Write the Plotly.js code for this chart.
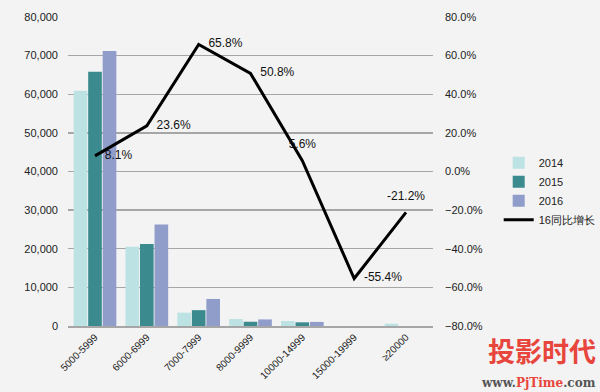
<!DOCTYPE html>
<html>
<head>
<meta charset="utf-8">
<script src="https://cdn.plot.ly/plotly-3.0.1.min.js"></script>
<style>html,body{margin:0;padding:0;background:#f3f3f3;}#chart{width:600px;height:392px;}</style>
</head>
<body>
<div id="chart"></div>
<script>
const categories = ['5000-5999','6000-6999','7000-7999','8000-9999','10000-14999','15000-19999','≥20000'];
const sales2014 = [60900, 20500, 3450, 1800, 1300, 0, 600];
const sales2015 = [65800, 21200, 4100, 1100, 950, 0, 0];
const sales2016 = [71200, 26300, 7000, 1700, 1050, 0, 0];
const growth16 = [8.1, 23.6, 65.8, 50.8, 5.6, -55.4, -21.2];
const growthLabelPos = ['middle right','middle right','middle right','middle right','top center','middle right','top center'];

const font = {family: 'Liberation Sans, Arial, sans-serif', size: 11, color: '#222'};

const traces = [
  {type:'bar', name:'2014', x:categories, y:sales2014, marker:{color:'#bce2e4', line:{width:0}}},
  {type:'bar', name:'2015', x:categories, y:sales2015, marker:{color:'#3b8b8e', line:{width:0}}},
  {type:'bar', name:'2016', x:categories, y:sales2016, marker:{color:'#909cca', line:{width:0}}},
  {type:'scatter', mode:'lines+markers+text', name:'16同比增长', x:categories, y:growth16, yaxis:'y2',
   line:{color:'#000', width:3}, marker:{size:14, color:'rgba(0,0,0,0)', line:{width:0}},
   text:growth16.map(v=>v.toFixed(1)+'%'), textposition:growthLabelPos,
   textfont:{family:font.family, size:12, color:'#111'}, cliponaxis:false}
];

const layout = {
  width:600, height:392,
  margin:{l:68, r:167, t:17, b:66, autoexpand:false},
  paper_bgcolor:'#f3f3f3', plot_bgcolor:'rgba(0,0,0,0)',
  font:font,
  barmode:'group', bargap:0.16, bargroupgap:0.06,
  showlegend:true,
  legend:{x:1.18, y:0.575, xanchor:'left', yanchor:'top', bgcolor:'rgba(0,0,0,0)', font:{size:11, color:'#222'}, tracegroupgap:0, itemwidth:30},
  xaxis:{type:'category', tickangle:-45, showline:true, linecolor:'#a6a6a6', linewidth:1.5, ticks:'', tickfont:{size:10, color:'#222'}, showgrid:false},
  yaxis:{range:[0,80000], dtick:10000, tickformat:',d', showgrid:true, gridcolor:'#a6a6a6', gridwidth:1.3, zeroline:false, ticks:'', ticklabelstandoff:9, tickfont:{size:11, color:'#222'}},
  yaxis2:{overlaying:'y', side:'right', range:[-80,80], dtick:20, tickformat:'.1f', ticksuffix:'%', showgrid:false, zeroline:false, ticks:'', ticklabelstandoff:11, tickfont:{size:11, color:'#222'}},
  annotations:[
    {xref:'paper', yref:'paper', x:1.452, y:-0.078, xanchor:'right', yanchor:'middle', text:'<b>投影时代</b>', showarrow:false, font:{family:'Noto Sans CJK SC', size:27, color:'#e8453c'}},
    {xref:'paper', yref:'paper', x:1.452, y:-0.183, xanchor:'right', yanchor:'middle', text:'<b>www.<span style="color:#e8453c">PjTime</span>.com</b>', showarrow:false, font:{family:'DejaVu Serif', size:12, color:'#555'}}
  ]
};

Plotly.newPlot('chart', traces, layout, {staticPlot:true, displayModeBar:false});
</script>
</body>
</html>
